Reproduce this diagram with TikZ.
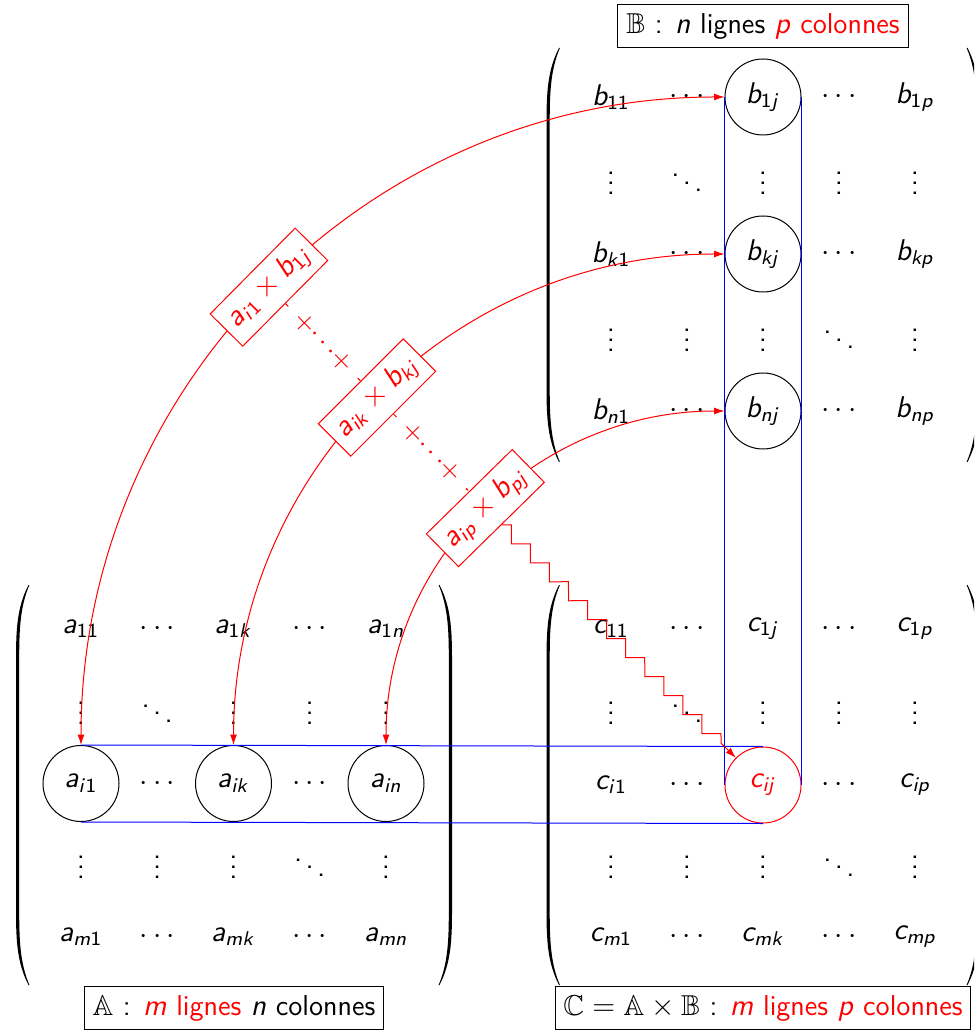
\documentclass[tikz,border=0pt]{standalone}
\usepackage{amssymb}
\usetikzlibrary{decorations.pathmorphing,arrows.meta}
\renewcommand{\familydefault}{\sfdefault}
\DeclareSymbolFont{sfit}{OT1}{cmss}{m}{sl}
\DeclareSymbolFont{sfup}{OT1}{cmss}{m}{n}
\DeclareMathSymbol{a}{\mathalpha}{sfit}{`a}
\DeclareMathSymbol{b}{\mathalpha}{sfit}{`b}
\DeclareMathSymbol{c}{\mathalpha}{sfit}{`c}
\DeclareMathSymbol{i}{\mathalpha}{sfit}{`i}
\DeclareMathSymbol{j}{\mathalpha}{sfit}{`j}
\DeclareMathSymbol{k}{\mathalpha}{sfit}{`k}
\DeclareMathSymbol{m}{\mathalpha}{sfit}{`m}
\DeclareMathSymbol{n}{\mathalpha}{sfit}{`n}
\DeclareMathSymbol{p}{\mathalpha}{sfit}{`p}
\DeclareMathSymbol{1}{\mathalpha}{sfup}{`1}
\newcommand{\entfont}{\sffamily\fontsize{12}{14}\selectfont}
\newcommand{\lblfont}{\sffamily\fontsize{11.5}{13}\selectfont}
\newcommand{\dotfont}{\sffamily\fontsize{11}{12}\selectfont}
% paren: #1 outer x, #2 top y, #3 bottom y, #4 direction (1 left paren, -1 right paren)
\newcommand{\myparen}[4]{%
  \fill (#1+#4*12.5,#2) .. controls (#1+#4*1,#2+22) and (#1,#2+45) .. (#1,#2+75)
    -- (#1,#3-75) .. controls (#1,#3-45) and (#1+#4*1,#3-22) .. (#1+#4*12.5,#3)
    -- (#1+#4*13.4,#3) .. controls (#1+#4*4,#3-22) and (#1+#4*3.2,#3-45) .. (#1+#4*3.2,#3-75)
    -- (#1+#4*3.2,#2+75) .. controls (#1+#4*3.2,#2+45) and (#1+#4*4,#2+22) .. (#1+#4*13.4,#2) -- cycle;}
\begin{document}
\begin{tikzpicture}[x=0.4pt,y=-0.4pt,
  every node/.style={font=\entfont},
  ent/.style={inner sep=0pt, anchor=center},
  circ/.style={circle, draw, minimum size=30.4pt, inner sep=0pt},
  lbl/.style={draw, fill=white, font=\lblfont, inner sep=3.33pt},
  prod/.style={draw=red, fill=white, text=red, sloped, inner sep=3.33pt},
  dotsl/.style={sloped, fill=white, text=red, font=\dotfont, inner xsep=5pt, inner ysep=1pt},
  link/.style={red, {Latex[length=4.2pt,width=2.8pt]}-{Latex[length=4.2pt,width=2.8pt]}}]
\useasboundingbox (0,0) rectangle (974,1030);
\clip (0,0) rectangle (974,1030);

% ---------- parentheses
\myparen{16}{585}{985}{1}
\myparen{452}{585}{985}{-1}
\myparen{546.5}{48}{462}{1}
\myparen{980}{48}{462}{-1}
\myparen{546.5}{585}{985}{1}
\myparen{980}{585}{985}{-1}

% ---------- matrix A
\foreach \t [count=\c] in {a_{11},\cdots,a_{1k},\cdots,a_{1n}}
  \node[ent] (A1-\c) at ({81+76.25*(\c-1)},629) {$\t$};
\foreach \t [count=\c] in {\vdots,\ddots,\vdots,\vdots,\vdots}
  \node[ent] (A2-\c) at ({81+76.25*(\c-1)},706) {$\t$};
\node[circ] (ai1) at (81,783.5) {$a_{i1}$};
\node[ent] (A3-2) at (157.25,783.5) {$\cdots$};
\node[circ] (aik) at (233.5,783.5) {$a_{ik}$};
\node[ent] (A3-4) at (309.75,783.5) {$\cdots$};
\node[circ] (ain) at (386,783.5) {$a_{in}$};
\foreach \t [count=\c] in {\vdots,\vdots,\vdots,\ddots,\vdots}
  \node[ent] (A4-\c) at ({81+76.25*(\c-1)},860) {$\t$};
\foreach \t [count=\c] in {a_{m1},\cdots,a_{mk},\cdots,a_{mn}}
  \node[ent] (A5-\c) at ({81+76.25*(\c-1)},937) {$\t$};

% ---------- matrix B
\node[ent] (B1-1) at (611,97) {$b_{11}$};
\node[ent] (B1-2) at (687,97) {$\cdots$};
\node[circ] (b1j) at (763,97) {$b_{1j}$};
\node[ent] (B1-4) at (839,97) {$\cdots$};
\node[ent] (B1-5) at (915,97) {$b_{1p}$};
\foreach \t [count=\c] in {\vdots,\ddots,\vdots,\vdots,\vdots}
  \node[ent] (B2-\c) at ({611+76*(\c-1)},175.5) {$\t$};
\node[ent] (B3-1) at (611,254) {$b_{k1}$};
\node[ent] (B3-2) at (687,254) {$\cdots$};
\node[circ] (bkj) at (763,254) {$b_{kj}$};
\node[ent] (B3-4) at (839,254) {$\cdots$};
\node[ent] (B3-5) at (915,254) {$b_{kp}$};
\foreach \t [count=\c] in {\vdots,\vdots,\vdots,\ddots,\vdots}
  \node[ent] (B4-\c) at ({611+76*(\c-1)},332.5) {$\t$};
\node[ent] (B5-1) at (611,411) {$b_{n1}$};
\node[ent] (B5-2) at (687,411) {$\cdots$};
\node[circ] (bnj) at (763,411) {$b_{nj}$};
\node[ent] (B5-4) at (839,411) {$\cdots$};
\node[ent] (B5-5) at (915,411) {$b_{np}$};

% ---------- matrix C
\foreach \t [count=\c] in {c_{11},\cdots,c_{1j},\cdots,c_{1p}}
  \node[ent] (C1-\c) at ({611+76*(\c-1)},629) {$\t$};
\foreach \t [count=\c] in {\vdots,\ddots,\vdots,\vdots,\vdots}
  \node[ent] (C2-\c) at ({611+76*(\c-1)},706) {$\t$};
\node[ent] (C3-1) at (611,785) {$c_{i1}$};
\node[ent] (C3-2) at (687,785) {$\cdots$};
\node[circ, draw=red, text=red] (cij) at (763,785) {$c_{ij}$};
\node[ent] (C3-4) at (839,785) {$\cdots$};
\node[ent] (C3-5) at (915,785) {$c_{ip}$};
\foreach \t [count=\c] in {\vdots,\vdots,\vdots,\ddots,\vdots}
  \node[ent] (C4-\c) at ({611+76*(\c-1)},860) {$\t$};
\foreach \t [count=\c] in {c_{m1},\cdots,c_{mk},\cdots,c_{mp}}
  \node[ent] (C5-\c) at ({611+76*(\c-1)},937) {$\t$};

% ---------- blue bands
\draw[blue] (ai1.north) -- (cij.north);
\draw[blue] (ai1.south) -- (cij.south);
\draw[blue] (b1j.west) -- (cij.west);
\draw[blue] (b1j.east) -- (cij.east);

% ---------- products
\draw[link] (ai1.north) to[out=90,in=180] node[prod] (p1) {$a_{i1}\times b_{1j}$} (b1j.west);
\draw[link] (aik.north) to[out=90,in=180] node[prod] (p2) {$a_{ik}\times b_{kj}$} (bkj.west);
\draw[link] (ain.north) to[out=90,in=180] node[prod] (p3) {$a_{ip}\times b_{pj}$} (bnj.west);

\draw[red] (p1.south) -- node[dotsl] (d1) {${+}\!\cdots\!{+}$} (p2.north);
\draw[red, -{Latex[length=4.2pt,width=2.8pt]}] (p2.south) -- node[dotsl] (d2) {${+}\!\cdots\!{+}$} (p3.north);

\draw[red, -{Latex[length=4.2pt,width=2.8pt]}, decorate,
  decoration={zigzag, segment length=10.76pt, amplitude=2.69pt, post length=3pt}]
  (p3.south) -- (cij.north west);

% ---------- labels
\node[lbl] (lB) at (763,26) {$\mathbb{B}$ : $n$ lignes \textcolor{red}{$p$ colonnes}};
\node[lbl] (lA) at (234,1008) {$\mathbb{A}$ : \textcolor{red}{$m$ lignes} $n$ colonnes};
\node[lbl] (lC) at (763,1008) {$\mathbb{C}=\mathbb{A}\times\mathbb{B}$ : \textcolor{red}{$m$ lignes $p$ colonnes}};
\end{tikzpicture}
\end{document}
